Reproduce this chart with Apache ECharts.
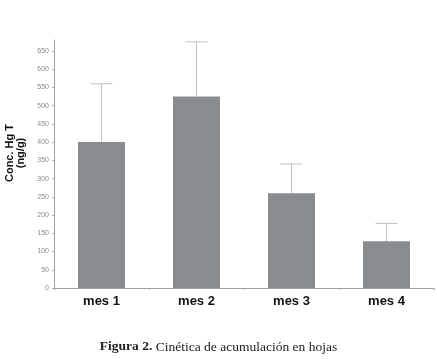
<!DOCTYPE html>
<html lang="es">
<head>
    <meta charset="UTF-8">
    <title>Conc. Hg T</title>
    <script src="https://cdn.jsdelivr.net/npm/echarts@6/dist/echarts.min.js"></script>
    <style>
        * { margin: 0; padding: 0; }
        body { background: #fff; overflow: hidden; }
        #main { width: 437px; height: 359px; }
    </style>
</head>
<body>
<div id="main"></div>
<script type="text/javascript">
    // datos
    var categories = ['mes 1', 'mes 2', 'mes 3', 'mes 4'];
    var means = [400, 525, 260, 128];
    var errUp = [160, 150, 80, 49];
    var yTicks = [0, 50, 100, 150, 200, 250, 300, 350, 400, 450, 500, 550, 600, 650];

    var myChart = echarts.init(document.getElementById('main'));

    var errData = categories.map(function (c, i) {
        return [i, means[i], means[i] + errUp[i]];
    });

    var option = {
        animation: false,
        grid: { left: 54, right: 3, top: 40, bottom: 71, outerBoundsMode: 'none', containLabel: false },
        xAxis: {
            type: 'category',
            data: categories,
            axisLine: { lineStyle: { color: '#a0a0a0', width: 1 } },
            axisTick: { show: true, length: 2, lineStyle: { color: '#b0b0b0' } },
            axisLabel: {
                color: '#111',
                fontFamily: 'Liberation Sans',
                fontWeight: 'bold',
                fontSize: 13,
                margin: 7
            }
        },
        yAxis: {
            type: 'value',
            min: 0,
            max: 680,
            splitLine: { show: false },
            axisLine: { show: true, lineStyle: { color: '#a0a0a0', width: 1 } },
            axisTick: { show: true, length: 2, customValues: yTicks, lineStyle: { color: '#b0b0b0' } },
            axisLabel: {
                customValues: yTicks,
                color: '#8a8a8a',
                fontFamily: 'Liberation Sans Narrow, Liberation Sans',
                fontSize: 7,
                margin: 5
            },
            name: 'Conc. Hg T\n(ng/g)',
            nameLocation: 'middle',
            nameRotate: 90,
            nameGap: 28,
            nameTextStyle: {
                color: '#111',
                fontFamily: 'Liberation Sans',
                fontWeight: 'bold',
                fontSize: 11,
                lineHeight: 11,
                align: 'center',
                padding: [0, 0, 0, 22]
            }
        },
        series: [
            {
                type: 'bar',
                data: means,
                barWidth: 47,
                itemStyle: { color: '#898c8f' }
            },
            {
                type: 'custom',
                data: errData,
                z: 1,
                renderItem: function (params, api) {
                    var x = api.value(0);
                    var lo = api.coord([x, api.value(1)]);
                    var hi = api.coord([x, api.value(2)]);
                    var half = 11;
                    var st = { stroke: '#c2c2c2', lineWidth: 1 };
                    return {
                        type: 'group',
                        children: [
                            { type: 'line', shape: { x1: lo[0], y1: lo[1], x2: hi[0], y2: hi[1] }, style: st },
                            { type: 'line', shape: { x1: hi[0] - half, y1: hi[1], x2: hi[0] + half, y2: hi[1] }, style: st }
                        ]
                    };
                }
            }
        ],
        graphic: [
            {
                type: 'text',
                left: 'center',
                top: 340,
                style: {
                    text: '{b|Figura 2.} Cinética de acumulación en hojas',
                    fontFamily: 'Liberation Serif',
                    fontSize: 13.5,
                    fill: '#222',
                    rich: {
                        b: { fontFamily: 'Liberation Serif', fontSize: 13.5, fontWeight: 'bold', fill: '#222' }
                    }
                }
            }
        ]
    };
    myChart.setOption(option);
</script>
</body>
</html>
